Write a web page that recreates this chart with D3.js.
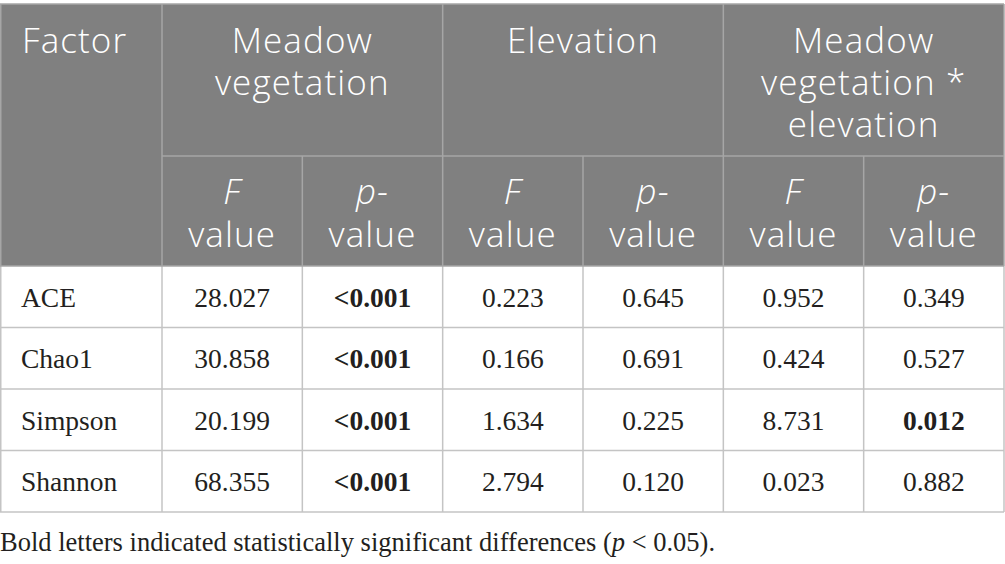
<!DOCTYPE html>
<html>
<head>
<meta charset="utf-8">
<script src="https://cdn.jsdelivr.net/npm/d3@7"></script>
<style>
  html, body { margin: 0; padding: 0; background: #fff; }
  svg { display: block; }
</style>
</head>
<body>
<div id="table"></div>
<script>
// DATA
const factors = ["ACE", "Chao1", "Simpson", "Shannon"];
const groupLines = [["Meadow", "vegetation"], ["Elevation"], ["Meadow", "vegetation *", "elevation"]];
const meadowF = ["28.027", "30.858", "20.199", "68.355"];
const meadowP = ["<0.001", "<0.001", "<0.001", "<0.001"];
const elevF = ["0.223", "0.166", "1.634", "2.794"];
const elevP = ["0.645", "0.691", "0.225", "0.120"];
const interF = ["0.952", "0.424", "8.731", "0.023"];
const interP = ["0.349", "0.527", "0.012", "0.882"];
const footnote = ["Bold letters indicated statistically significant differences (", "p", " < 0.05)."];

// SIZES
const svgWidth = 1005;
const svgHeight = 564;
const tableTop = 4;
const head1Bottom = 156;
const head2Bottom = 266;
const tableBottom = 512;
const firstColRight = 162;
const tableRight = 1004;

const headFill = "#808080";
const headLine = "#a6a6a6";
const bodyLine = "#c4c4c4";
const textColor = "#231f20";
const sansFont = "'Open Sans', 'Noto Sans', sans-serif";
const serifFont = "'Liberation Serif', 'Times New Roman', serif";

// is a p-value significant (bold)
const isSig = v => v.startsWith("<") || parseFloat(v) < 0.05;

// columns: each data column is [values, isP]
const columns = [
  [meadowF, false], [meadowP, true],
  [elevF, false], [elevP, true],
  [interF, false], [interP, true]
];

// SCALES
const xScale = d3.scaleLinear().domain([0, columns.length]).range([firstColRight, tableRight]);
const yScale = d3.scaleBand().domain(factors).range([head2Bottom, tableBottom]);

const svg = d3.select("#table")
  .append("svg")
  .attr("width", svgWidth)
  .attr("height", svgHeight);

// HEADER BACKGROUND
svg.append("rect")
  .attr("x", 0)
  .attr("y", tableTop)
  .attr("width", tableRight)
  .attr("height", head2Bottom - tableTop)
  .attr("fill", headFill);

// BODY ROW LINES
svg.append("g")
  .selectAll("line")
  .data(factors)
  .join("line")
  .attr("x1", 0)
  .attr("x2", tableRight)
  .attr("y1", d => yScale(d) + yScale.bandwidth())
  .attr("y2", d => yScale(d) + yScale.bandwidth())
  .attr("stroke", bodyLine)
  .attr("stroke-width", 1.5);

// BODY COLUMN LINES
svg.append("g")
  .selectAll("line")
  .data(d3.range(columns.length + 1))
  .join("line")
  .attr("x1", d => xScale(d))
  .attr("x2", d => xScale(d))
  .attr("y1", head2Bottom)
  .attr("y2", tableBottom)
  .attr("stroke", bodyLine)
  .attr("stroke-width", 1.5);

svg.append("line")
  .attr("x1", 0.75).attr("x2", 0.75)
  .attr("y1", head2Bottom).attr("y2", tableBottom)
  .attr("stroke", bodyLine).attr("stroke-width", 1.5);

// HEADER LINES
const headG = svg.append("g").attr("stroke", headLine).attr("stroke-width", 1.5);
headG.append("line")
  .attr("x1", 0).attr("x2", tableRight)
  .attr("y1", tableTop).attr("y2", tableTop);
headG.append("line")
  .attr("x1", firstColRight).attr("x2", tableRight)
  .attr("y1", head1Bottom).attr("y2", head1Bottom);
headG.append("line")
  .attr("x1", 0).attr("x2", tableRight)
  .attr("y1", head2Bottom).attr("y2", head2Bottom);
headG.append("line")
  .attr("x1", 0.75).attr("x2", 0.75)
  .attr("y1", tableTop).attr("y2", head2Bottom);
headG.selectAll(".vline")
  .data(d3.range(columns.length + 1))
  .join("line")
  .attr("class", "vline")
  .attr("x1", d => xScale(d))
  .attr("x2", d => xScale(d))
  .attr("y1", d => (d % 2 === 0 ? tableTop : head1Bottom))
  .attr("y2", head2Bottom);

// HEADER TEXT
const headText = svg.append("g")
  .attr("fill", "#fff")
  .style("font-family", sansFont)
  .style("font-weight", 300)
  .style("font-size", "35px")
  .style("letter-spacing", "1.1px");

headText.append("text")
  .attr("x", 22)
  .attr("y", 53)
  .text("Factor");

groupLines.forEach((lines, g) => {
  const cx = (xScale(g * 2) + xScale(g * 2 + 2)) / 2;
  headText.append("text")
    .attr("text-anchor", "middle")
    .selectAll("tspan")
    .data(lines)
    .join("tspan")
    .attr("x", cx)
    .attr("y", (d, i) => 53 + i * 42)
    .text(d => d);
});

columns.forEach(([, isP], i) => {
  const cx = (xScale(i) + xScale(i + 1)) / 2;
  const t = headText.append("text").attr("text-anchor", "middle");
  t.append("tspan")
    .attr("x", cx)
    .attr("y", 204)
    .style("font-style", "italic")
    .text(isP ? "p-" : "F");
  t.append("tspan")
    .attr("x", cx)
    .attr("y", 247)
    .text("value");
});

// BODY TEXT
const bodyText = svg.append("g")
  .attr("fill", textColor)
  .style("font-family", serifFont)
  .style("font-size", "27.5px");

bodyText.selectAll(".factor")
  .data(factors)
  .join("text")
  .attr("class", "factor")
  .attr("x", 21)
  .attr("y", d => yScale(d) + yScale.bandwidth() / 2 + 10)
  .text(d => d);

columns.forEach(([values, isP], i) => {
  bodyText.append("g")
    .selectAll("text")
    .data(values)
    .join("text")
    .attr("x", (xScale(i) + xScale(i + 1)) / 2)
    .attr("y", (d, r) => yScale(factors[r]) + yScale.bandwidth() / 2 + 10)
    .attr("text-anchor", "middle")
    .style("font-weight", d => (isP && isSig(d) ? "bold" : "normal"))
    .text(d => d);
});

// FOOTNOTE
svg.append("text")
  .attr("x", 0)
  .attr("y", 551)
  .attr("fill", textColor)
  .style("font-family", serifFont)
  .style("font-size", "26.5px")
  .selectAll("tspan")
  .data(footnote)
  .join("tspan")
  .style("font-style", (d, i) => (i === 1 ? "italic" : "normal"))
  .text(d => d);
</script>
</body>
</html>
